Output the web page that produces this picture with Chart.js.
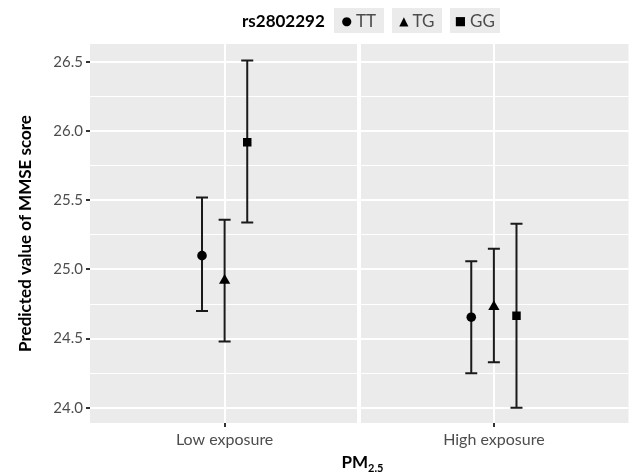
<!DOCTYPE html>
<html>
<head>
<meta charset="utf-8">
<script src="https://cdn.jsdelivr.net/npm/chart.js@4"></script>
<style>
  body { margin:0; background:#fff; font-family: Lato, "Noto Sans", sans-serif; }
  #wrap { position:relative; width:635px; height:474px; }
  #legend { position:absolute; top:8px; left:242px; height:25px; display:flex; align-items:center; font-size:17px; color:#4d4d4d; }
  #legend .ttl { font-weight:bold; color:#000; font-size:17px; margin-right:9px; }
  #legend .key { background:#ebebeb; height:25px; width:50px; margin-right:8px; display:flex; align-items:center; justify-content:center; }
  #legend .sym { color:#000; font-family:"DejaVu Sans"; font-size:12px; margin-right:4px; }
  #xtitle { position:absolute; top:451px; left:0; width:635px; padding-left:90px; box-sizing:border-box; text-align:center; font-weight:bold; font-size:17px; color:#000; }
  #xtitle sub { font-size:11px; }
</style>
</head>
<body>
<div id="wrap">
  <canvas id="c" width="635" height="474"></canvas>
  <div id="legend"></div>
  <div id="xtitle">PM<sub>2.5</sub></div>
</div>
<script>
const categories = ['Low exposure', 'High exposure'];
const genotypes = ['TT', 'TG', 'GG'];
const meanTT = [25.10, 24.655];
const meanTG = [24.92, 24.73];
const meanGG = [25.92, 24.665];
const lowTT = [24.70, 24.25];
const lowTG = [24.48, 24.33];
const lowGG = [25.34, 24.00];
const highTT = [25.52, 25.06];
const highTG = [25.36, 25.15];
const highGG = [26.51, 25.33];
const yTicks = [24.0, 24.25, 24.5, 24.75, 25.0, 25.25, 25.5, 25.75, 26.0, 26.25, 26.5];

const dodge = 0.084;
const shapes = ['circle', 'triangle', 'rect'];
const radii = [4.8, 6.5, 6];
const series = [
  { m: meanTT, lo: lowTT, hi: highTT },
  { m: meanTG, lo: lowTG, hi: highTG },
  { m: meanGG, lo: lowGG, hi: highGG }
];

// legend
const lg = document.getElementById('legend');
lg.innerHTML = '<span class="ttl">rs2802292</span>';
const syms = ['\u25CF', '\u25B2', '\u25A0'];
genotypes.forEach((g, i) => {
  lg.innerHTML += `<span class="key"><span class="sym">${syms[i]}</span>${g}</span>`;
});

const panelBg = {
  id: 'panelBg',
  beforeDraw(chart) {
    const a = chart.chartArea, ctx = chart.ctx;
    ctx.save();
    ctx.fillStyle = '#ebebeb';
    ctx.fillRect(a.left, a.top, a.right - a.left, a.bottom - a.top);
    ctx.restore();
  }
};

const errorBars = {
  id: 'errorBars',
  beforeDatasetsDraw(chart) {
    const ctx = chart.ctx, y = chart.scales.y;
    ctx.save();
    ctx.strokeStyle = '#1a1a1a';
    ctx.lineWidth = 2;
    chart.data.datasets.forEach((ds, i) => {
      chart.getDatasetMeta(i).data.forEach((pt, j) => {
        const yl = y.getPixelForValue(ds.lo[j]), yh = y.getPixelForValue(ds.hi[j]);
        ctx.beginPath();
        ctx.moveTo(pt.x, yl); ctx.lineTo(pt.x, yh);
        ctx.moveTo(pt.x - 6, yl); ctx.lineTo(pt.x + 6, yl);
        ctx.moveTo(pt.x - 6, yh); ctx.lineTo(pt.x + 6, yh);
        ctx.stroke();
      });
    });
    ctx.restore();
  }
};

new Chart(document.getElementById('c'), {
  type: 'scatter',
  data: {
    datasets: series.map((s, i) => ({
      label: genotypes[i],
      data: s.m.map((v, j) => ({ x: j + 1 + (i - 1) * dodge, y: v })),
      lo: s.lo, hi: s.hi,
      pointStyle: shapes[i],
      pointRadius: radii[i],
      pointHoverRadius: radii[i],
      backgroundColor: '#000',
      borderColor: '#000',
      borderWidth: 0
    }))
  },
  options: {
    responsive: false,
    animation: false,
    layout: { padding: { top: 44, right: 5, left: 0, bottom: 0 } },
    plugins: { legend: { display: false }, tooltip: { enabled: false } },
    scales: {
      x: {
        type: 'linear', min: 0.5, max: 2.5,
        afterBuildTicks: s => { s.ticks = [1, 1.5, 2].map(v => ({ value: v })); },
        afterFit: s => { s.height = 51; },
        border: { display: false },
        grid: {
          color: '#fff',
          lineWidth: c => c.tick && c.tick.value === 1.5 ? 4 : 2,
          tickColor: c => c.tick && c.tick.value === 1.5 ? 'rgba(0,0,0,0)' : '#333',
          tickLength: 4
        },
        ticks: {
          autoSkip: false, maxRotation: 0, padding: 3,
          color: '#4d4d4d', font: { family: 'Lato', size: 16 },
          callback: v => Number.isInteger(v) ? categories[v - 1] : ''
        }
      },
      y: {
        min: 23.89, max: 26.63,
        afterBuildTicks: s => { s.ticks = yTicks.map(v => ({ value: v })); },
        afterFit: s => { s.width = 90; },
        border: { display: false },
        grid: {
          color: '#fff',
          lineWidth: c => c.tick && Math.round(c.tick.value * 4) % 2 === 0 ? 2 : 1,
          tickColor: c => c.tick && Math.round(c.tick.value * 4) % 2 === 0 ? '#333' : 'rgba(0,0,0,0)',
          tickLength: 4
        },
        ticks: {
          padding: 3, color: '#4d4d4d', font: { family: 'Lato', size: 15 },
          callback: v => Math.round(v * 4) % 2 === 0 ? v.toFixed(1) : ''
        },
        title: {
          display: true, text: 'Predicted value of MMSE score',
          color: '#000', font: { family: 'Lato', size: 17, weight: 'bold' },
          padding: { top: 15, bottom: 4 }
        }
      }
    }
  },
  plugins: [panelBg, errorBars]
});
</script>
</body>
</html>
